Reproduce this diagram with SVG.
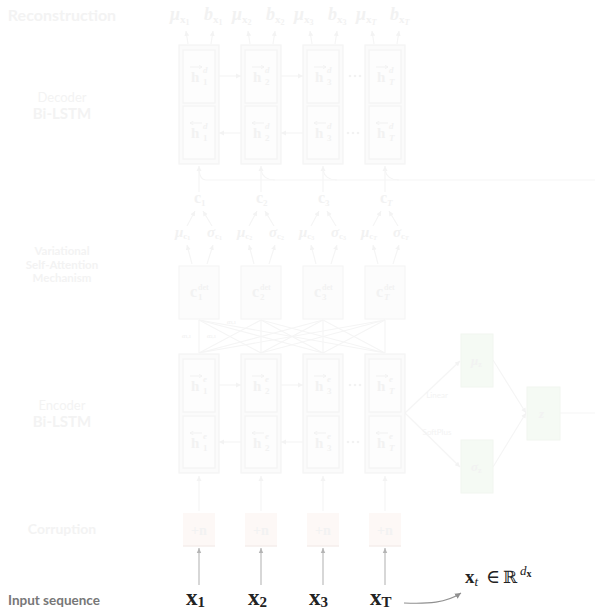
<svg xmlns="http://www.w3.org/2000/svg" width="595" height="611" viewBox="0 0 595 611">
<style>
.lbl{font-family:Lato,"Open Sans",sans-serif;fill:#f3f3f3;text-anchor:middle}
.b{font-weight:bold}
.m{font-family:"Liberation Serif","DejaVu Serif",serif;fill:#f2f2f2;font-weight:bold}
.mi{font-family:"Liberation Serif","DejaVu Serif",serif;fill:#f2f2f2;font-weight:bold;font-style:italic}
.outer{fill:#fbfbfb;stroke:#f4f4f4;stroke-width:1.2}
.inner{fill:#fdfdfd;stroke:#f4f4f4;stroke-width:1.2}
.det{fill:#fcfcfc;stroke:#f5f5f5;stroke-width:1.2}
.noise{fill:#fdf8f6;stroke:none}
.nb{stroke:#f5eeeb;stroke-width:1.5}
.green{fill:#f5faf4;stroke:#f1f6f0;stroke-width:1}
.fl{stroke:#f5f5f5;stroke-width:1.2;fill:none}
.fa{stroke:#f5f5f5;stroke-width:1.2;fill:none;marker-end:url(#fh)}
.acc{stroke:#f1f1f1;stroke-width:1;fill:none;marker-end:url(#acc)}
.dots{fill:#f2f2f2}
.in{stroke:#bcbcbc;stroke-width:1.2;fill:none;marker-end:url(#gh)}
.x{font-family:"Liberation Serif","DejaVu Serif",serif;fill:#222;font-weight:bold}
</style>
<defs>
<marker id="fh" markerWidth="6" markerHeight="6" refX="5" refY="3" orient="auto" markerUnits="userSpaceOnUse"><path d="M0,0.5 L5,3 L0,5.5 Z" fill="#f3f3f3"/></marker>
<marker id="acc" markerWidth="4" markerHeight="4" refX="3.5" refY="2" orient="auto" markerUnits="userSpaceOnUse"><path d="M0,0 L3.5,2 L0,4" fill="none" stroke="#f0f0f0" stroke-width="0.8"/></marker>
<marker id="gh" markerWidth="6" markerHeight="6" refX="5" refY="3" orient="auto" markerUnits="userSpaceOnUse"><path d="M0,0.8 L5,3 L0,5.2 Z" fill="#b4b4b4"/></marker>
<marker id="dh" markerWidth="8" markerHeight="8" refX="6" refY="4" orient="auto" markerUnits="userSpaceOnUse"><path d="M0,1 L6,4 L0,7 Z" fill="#909090"/></marker>
</defs>

<g id="side-labels">
<text class="lbl b" x="62" y="21" font-size="16">Reconstruction</text>
<text class="lbl" x="62" y="102" font-size="13">Decoder</text>
<text class="lbl b" x="62" y="119" font-size="15">Bi-LSTM</text>
<text class="lbl b" x="62" y="255" font-size="11.5">Variational</text>
<text class="lbl b" x="62" y="268.5" font-size="11.5">Self-Attention</text>
<text class="lbl b" x="62" y="282" font-size="11.5">Mechanism</text>
<text class="lbl" x="62" y="410" font-size="13">Encoder</text>
<text class="lbl b" x="62" y="427" font-size="15">Bi-LSTM</text>
<text class="lbl b" x="62" y="534" font-size="14">Corruption</text>
<text x="8" y="605" font-family="Lato,'Open Sans',sans-serif" font-weight="bold" font-size="13.5" fill="#777777">Input sequence</text>
</g>

<g id="connectors">
<path class="fa" d="M188,44 L186,31"/><path class="fa" d="M211,44 L213,31"/>
<path class="fa" d="M250,44 L248,31"/><path class="fa" d="M273,44 L275,31"/>
<path class="fa" d="M312,44 L310,31"/><path class="fa" d="M335,44 L337,31"/>
<path class="fa" d="M374,44 L372,31"/><path class="fa" d="M397,44 L399,31"/>
<path class="fa" d="M219,76 H241"/><path class="fa" d="M281,76 H303"/>
<path class="fa" d="M241,133 H219"/><path class="fa" d="M303,133 H281"/>
<path class="fa" d="M199,192 V166"/><path class="fa" d="M261,192 V166"/><path class="fa" d="M323,192 V166"/><path class="fa" d="M385,192 V166"/>
<path class="fl" d="M595,180 H206 Q200,180 199,170"/>
<path class="fl" d="M275,180 Q263,180 261,170"/>
<path class="fl" d="M337,180 Q325,180 323,170"/>
<path class="fl" d="M399,180 Q387,180 385,170"/>
<path class="fa" d="M187,226 L195,211"/><path class="fa" d="M212,226 L203,211"/>
<path class="fa" d="M249,226 L257,211"/><path class="fa" d="M274,226 L265,211"/>
<path class="fa" d="M311,226 L319,211"/><path class="fa" d="M336,226 L327,211"/>
<path class="fa" d="M373,226 L381,211"/><path class="fa" d="M398,226 L389,211"/>
<path class="fa" d="M192,264 L187,245"/><path class="fa" d="M207,264 L213,245"/>
<path class="fa" d="M254,264 L249,245"/><path class="fa" d="M269,264 L275,245"/>
<path class="fa" d="M316,264 L311,245"/><path class="fa" d="M331,264 L337,245"/>
<path class="fa" d="M378,264 L373,245"/><path class="fa" d="M393,264 L399,245"/>
<g class="fl" stroke-width="0.8">
<path d="M199,353 L199,320 M199,353 L261,320 M199,353 L323,320 M199,353 L385,320"/>
<path d="M261,353 L199,320 M261,353 L261,320 M261,353 L323,320 M261,353 L385,320"/>
<path d="M323,353 L199,320 M323,353 L261,320 M323,353 L323,320 M323,353 L385,320"/>
<path d="M385,353 L199,320 M385,353 L261,320 M385,353 L323,320 M385,353 L385,320"/>
</g>
<path class="fa" d="M219,385 H241"/><path class="fa" d="M281,385 H303"/>
<path class="fa" d="M241,442 H219"/><path class="fa" d="M303,442 H281"/>
<path class="fa" d="M199,511 V476"/><path class="fa" d="M261,511 V476"/><path class="fa" d="M323,511 V476"/><path class="fa" d="M385,511 V476"/>
<path class="fa" d="M405,413 L460,361"/><path class="fa" d="M405,413 L460,467"/>
<path class="fa" d="M493,360 L526,413"/><path class="fa" d="M493,467 L526,413"/>
<path class="fl" d="M560,413 H595"/>
<path class="in" d="M199,585 V548"/><path class="in" d="M261,585 V548"/><path class="in" d="M323,585 V548"/><path class="in" d="M385,585 V548"/>
<path d="M404,603 C428,604 446,603 461,593" fill="none" stroke="#909090" stroke-width="1.1" marker-end="url(#dh)"/>
</g>

<g id="dots">
<circle class="dots" cx="350" cy="76" r="1.3"/><circle class="dots" cx="355" cy="76" r="1.3"/><circle class="dots" cx="360" cy="76" r="1.3"/>
<circle class="dots" cx="348" cy="133" r="1.3"/><circle class="dots" cx="353" cy="133" r="1.3"/><circle class="dots" cx="358" cy="133" r="1.3"/>
<circle class="dots" cx="350" cy="385" r="1.3"/><circle class="dots" cx="355" cy="385" r="1.3"/><circle class="dots" cx="360" cy="385" r="1.3"/>
<circle class="dots" cx="348" cy="442" r="1.3"/><circle class="dots" cx="353" cy="442" r="1.3"/><circle class="dots" cx="358" cy="442" r="1.3"/>
</g>

<g id="recon-labels">
<text class="mi" x="170" y="20" font-size="18">μ<tspan class="m" font-style="normal" font-size="11" dy="3">x</tspan><tspan class="m" font-style="normal" font-size="8" dy="2">1</tspan></text>
<text class="mi" x="204" y="20" font-size="18">b<tspan class="m" font-style="normal" font-size="11" dy="3">x</tspan><tspan class="m" font-style="normal" font-size="8" dy="2">1</tspan></text>
<text class="mi" x="232" y="20" font-size="18">μ<tspan class="m" font-style="normal" font-size="11" dy="3">x</tspan><tspan class="m" font-style="normal" font-size="8" dy="2">2</tspan></text>
<text class="mi" x="266" y="20" font-size="18">b<tspan class="m" font-style="normal" font-size="11" dy="3">x</tspan><tspan class="m" font-style="normal" font-size="8" dy="2">2</tspan></text>
<text class="mi" x="294" y="20" font-size="18">μ<tspan class="m" font-style="normal" font-size="11" dy="3">x</tspan><tspan class="m" font-style="normal" font-size="8" dy="2">3</tspan></text>
<text class="mi" x="328" y="20" font-size="18">b<tspan class="m" font-style="normal" font-size="11" dy="3">x</tspan><tspan class="m" font-style="normal" font-size="8" dy="2">3</tspan></text>
<text class="mi" x="356" y="20" font-size="18">μ<tspan class="m" font-style="normal" font-size="11" dy="3">x</tspan><tspan font-size="8" dy="2">T</tspan></text>
<text class="mi" x="390" y="20" font-size="18">b<tspan class="m" font-style="normal" font-size="11" dy="3">x</tspan><tspan font-size="8" dy="2">T</tspan></text>
</g>

<g id="dec1">
<rect class="outer" x="179" y="45" width="40" height="119"/><rect class="inner" x="183" y="50" width="32" height="53"/><rect class="inner" x="183" y="106" width="32" height="53"/>
<path class="acc" d="M190,67 H202"/><text class="m" x="191" y="82" font-size="15">h</text><text class="mi" x="203" y="73" font-size="9">d</text><text class="m" x="203" y="85" font-size="9">1</text>
<path class="acc" d="M202,123 H190"/><text class="m" x="191" y="138" font-size="15">h</text><text class="mi" x="203" y="129" font-size="9">d</text><text class="m" x="203" y="141" font-size="9">1</text>
</g>
<g id="dec2">
<rect class="outer" x="241" y="45" width="40" height="119"/><rect class="inner" x="245" y="50" width="32" height="53"/><rect class="inner" x="245" y="106" width="32" height="53"/>
<path class="acc" d="M252,67 H264"/><text class="m" x="253" y="82" font-size="15">h</text><text class="mi" x="265" y="73" font-size="9">d</text><text class="m" x="265" y="85" font-size="9">2</text>
<path class="acc" d="M264,123 H252"/><text class="m" x="253" y="138" font-size="15">h</text><text class="mi" x="265" y="129" font-size="9">d</text><text class="m" x="265" y="141" font-size="9">2</text>
</g>
<g id="dec3">
<rect class="outer" x="303" y="45" width="40" height="119"/><rect class="inner" x="307" y="50" width="32" height="53"/><rect class="inner" x="307" y="106" width="32" height="53"/>
<path class="acc" d="M314,67 H326"/><text class="m" x="315" y="82" font-size="15">h</text><text class="mi" x="327" y="73" font-size="9">d</text><text class="m" x="327" y="85" font-size="9">3</text>
<path class="acc" d="M326,123 H314"/><text class="m" x="315" y="138" font-size="15">h</text><text class="mi" x="327" y="129" font-size="9">d</text><text class="m" x="327" y="141" font-size="9">3</text>
</g>
<g id="dec4">
<rect class="outer" x="365" y="45" width="40" height="119"/><rect class="inner" x="369" y="50" width="32" height="53"/><rect class="inner" x="369" y="106" width="32" height="53"/>
<path class="acc" d="M376,67 H388"/><text class="m" x="377" y="82" font-size="15">h</text><text class="mi" x="389" y="73" font-size="9">d</text><text class="mi" x="389" y="85" font-size="9">T</text>
<path class="acc" d="M388,123 H376"/><text class="m" x="377" y="138" font-size="15">h</text><text class="mi" x="389" y="129" font-size="9">d</text><text class="mi" x="389" y="141" font-size="9">T</text>
</g>

<g id="c-labels">
<text class="m" x="194" y="203" font-size="16">c<tspan font-size="9" dy="3">1</tspan></text>
<text class="m" x="256" y="203" font-size="16">c<tspan font-size="9" dy="3">2</tspan></text>
<text class="m" x="318" y="203" font-size="16">c<tspan font-size="9" dy="3">3</tspan></text>
<text class="m" x="380" y="203" font-size="16">c<tspan class="mi" font-size="9" dy="3">T</tspan></text>
<text class="mi" x="175" y="237" font-size="15">μ<tspan class="m" font-style="normal" font-size="9" dy="2">c</tspan><tspan class="m" font-style="normal" font-size="6" dy="1">1</tspan></text>
<text class="mi" x="207" y="237" font-size="15">σ<tspan class="m" font-style="normal" font-size="9" dy="2">c</tspan><tspan class="m" font-style="normal" font-size="6" dy="1">1</tspan></text>
<text class="mi" x="237" y="237" font-size="15">μ<tspan class="m" font-style="normal" font-size="9" dy="2">c</tspan><tspan class="m" font-style="normal" font-size="6" dy="1">2</tspan></text>
<text class="mi" x="269" y="237" font-size="15">σ<tspan class="m" font-style="normal" font-size="9" dy="2">c</tspan><tspan class="m" font-style="normal" font-size="6" dy="1">2</tspan></text>
<text class="mi" x="299" y="237" font-size="15">μ<tspan class="m" font-style="normal" font-size="9" dy="2">c</tspan><tspan class="m" font-style="normal" font-size="6" dy="1">3</tspan></text>
<text class="mi" x="331" y="237" font-size="15">σ<tspan class="m" font-style="normal" font-size="9" dy="2">c</tspan><tspan class="m" font-style="normal" font-size="6" dy="1">3</tspan></text>
<text class="mi" x="361" y="237" font-size="15">μ<tspan class="m" font-style="normal" font-size="9" dy="2">c</tspan><tspan font-size="6" dy="1">T</tspan></text>
<text class="mi" x="393" y="237" font-size="15">σ<tspan class="m" font-style="normal" font-size="9" dy="2">c</tspan><tspan font-size="6" dy="1">T</tspan></text>
</g>

<g id="cdet1"><rect class="det" x="179" y="266" width="40" height="53"/><text class="m" x="190" y="297" font-size="16">c</text><text class="m" x="198" y="290" font-size="8" font-weight="normal">det</text><text class="m" x="198" y="300" font-size="9">1</text></g>
<g id="cdet2"><rect class="det" x="241" y="266" width="40" height="53"/><text class="m" x="252" y="297" font-size="16">c</text><text class="m" x="260" y="290" font-size="8" font-weight="normal">det</text><text class="m" x="260" y="300" font-size="9">2</text></g>
<g id="cdet3"><rect class="det" x="303" y="266" width="40" height="53"/><text class="m" x="314" y="297" font-size="16">c</text><text class="m" x="322" y="290" font-size="8" font-weight="normal">det</text><text class="m" x="322" y="300" font-size="9">3</text></g>
<g id="cdet4"><rect class="det" x="365" y="266" width="40" height="53"/><text class="m" x="376" y="297" font-size="16">c</text><text class="m" x="384" y="290" font-size="8" font-weight="normal">det</text><text class="mi" x="384" y="300" font-size="9">T</text></g>

<g id="alphas">
<text class="mi" x="182" y="338" font-size="6">α<tspan font-style="normal" font-size="4.5">1,1</tspan></text>
<text class="mi" x="207" y="338" font-size="6">α<tspan font-style="normal" font-size="4.5">2,1</tspan></text>
<text class="mi" x="227" y="324" font-size="6">α<tspan font-style="normal" font-size="4.5">3,1</tspan></text>
</g>

<g id="enc1">
<rect class="outer" x="179" y="354" width="40" height="119"/><rect class="inner" x="183" y="359" width="32" height="53"/><rect class="inner" x="183" y="416" width="32" height="52"/>
<path class="acc" d="M190,376 H202"/><text class="m" x="191" y="391" font-size="15">h</text><text class="mi" x="203" y="382" font-size="9">e</text><text class="m" x="203" y="394" font-size="9">1</text>
<path class="acc" d="M202,433 H190"/><text class="m" x="191" y="448" font-size="15">h</text><text class="mi" x="203" y="439" font-size="9">e</text><text class="m" x="203" y="451" font-size="9">1</text>
</g>
<g id="enc2">
<rect class="outer" x="241" y="354" width="40" height="119"/><rect class="inner" x="245" y="359" width="32" height="53"/><rect class="inner" x="245" y="416" width="32" height="52"/>
<path class="acc" d="M252,376 H264"/><text class="m" x="253" y="391" font-size="15">h</text><text class="mi" x="265" y="382" font-size="9">e</text><text class="m" x="265" y="394" font-size="9">2</text>
<path class="acc" d="M264,433 H252"/><text class="m" x="253" y="448" font-size="15">h</text><text class="mi" x="265" y="439" font-size="9">e</text><text class="m" x="265" y="451" font-size="9">2</text>
</g>
<g id="enc3">
<rect class="outer" x="303" y="354" width="40" height="119"/><rect class="inner" x="307" y="359" width="32" height="53"/><rect class="inner" x="307" y="416" width="32" height="52"/>
<path class="acc" d="M314,376 H326"/><text class="m" x="315" y="391" font-size="15">h</text><text class="mi" x="327" y="382" font-size="9">e</text><text class="m" x="327" y="394" font-size="9">3</text>
<path class="acc" d="M326,433 H314"/><text class="m" x="315" y="448" font-size="15">h</text><text class="mi" x="327" y="439" font-size="9">e</text><text class="m" x="327" y="451" font-size="9">3</text>
</g>
<g id="enc4">
<rect class="outer" x="365" y="354" width="40" height="119"/><rect class="inner" x="369" y="359" width="32" height="53"/><rect class="inner" x="369" y="416" width="32" height="52"/>
<path class="acc" d="M376,376 H388"/><text class="m" x="377" y="391" font-size="15">h</text><text class="mi" x="389" y="382" font-size="9">e</text><text class="mi" x="389" y="394" font-size="9">T</text>
<path class="acc" d="M388,433 H376"/><text class="m" x="377" y="448" font-size="15">h</text><text class="mi" x="389" y="439" font-size="9">e</text><text class="mi" x="389" y="451" font-size="9">T</text>
</g>

<g id="latent">
<text class="lbl" x="437" y="398" font-size="8" text-anchor="start">Linear</text>
<text class="lbl" x="437" y="435" font-size="8" text-anchor="start">SoftPlus</text>
</g>
<g id="mu-z"><rect class="green" x="461" y="334" width="32" height="53"/><text class="mi" x="471" y="365" font-size="13">μ<tspan class="m" font-style="normal" font-size="8" dy="2">z</tspan></text></g>
<g id="sigma-z"><rect class="green" x="461" y="440" width="32" height="53"/><text class="mi" x="471" y="471" font-size="13">σ<tspan class="m" font-style="normal" font-size="8" dy="2">z</tspan></text></g>
<g id="z"><rect class="green" x="527" y="387" width="33" height="53"/><text class="mi" x="539" y="418" font-size="13">z</text></g>

<g id="noise1"><rect class="noise" x="183" y="513" width="32" height="33"/><path class="nb" d="M183,546 H215"/><text class="m" x="199" y="535" font-size="14" text-anchor="middle">+n</text></g>
<g id="noise2"><rect class="noise" x="245" y="513" width="32" height="33"/><path class="nb" d="M245,546 H277"/><text class="m" x="261" y="535" font-size="14" text-anchor="middle">+n</text></g>
<g id="noise3"><rect class="noise" x="307" y="513" width="32" height="33"/><path class="nb" d="M307,546 H339"/><text class="m" x="323" y="535" font-size="14" text-anchor="middle">+n</text></g>
<g id="noise4"><rect class="noise" x="369" y="513" width="32" height="33"/><path class="nb" d="M369,546 H401"/><text class="m" x="385" y="535" font-size="14" text-anchor="middle">+n</text></g>

<g id="inputs">
<text class="x" x="186" y="605" font-size="23">x<tspan font-size="15" dy="2">1</tspan></text>
<text class="x" x="248" y="605" font-size="23">x<tspan font-size="15" dy="2">2</tspan></text>
<text class="x" x="309" y="605" font-size="23">x<tspan font-size="15" dy="2">3</tspan></text>
<text class="x" x="370" y="605" font-size="23">x<tspan font-size="15" dy="2">T</tspan></text>
</g>
<g id="xt-def">
<text x="465" y="583" font-family="'Liberation Serif','DejaVu Serif',serif" font-size="19" fill="#222"><tspan font-weight="bold">x</tspan><tspan font-style="italic" font-size="13" dy="3">t</tspan><tspan x="486" dy="-3">∈</tspan><tspan x="503" font-family="'DejaVu Serif',serif" font-size="17">ℝ</tspan><tspan x="520" dy="-8" font-style="italic" font-size="13">d</tspan><tspan font-weight="bold" font-size="10" dy="2">x</tspan></text>
</g>
</svg>
